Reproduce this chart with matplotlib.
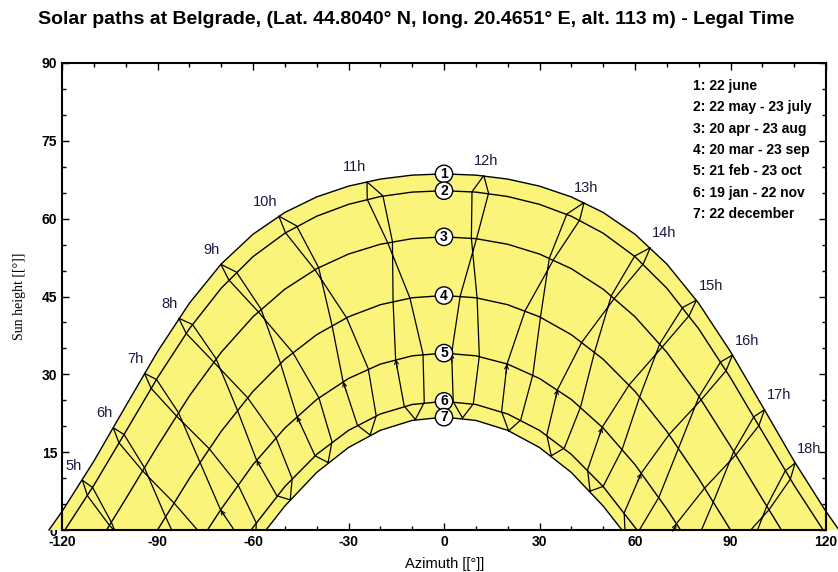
import numpy as np
import matplotlib.pyplot as plt

plt.rcParams['font.family'] = ['Liberation Sans', 'DejaVu Sans']
plt.rcParams['axes.unicode_minus'] = False

title = 'Solar paths at Belgrade, (Lat. 44.8040° N, long. 20.4651° E, alt. 113 m) - Legal Time'
path_labels = ['1: 22 june', '2: 22 may - 23 july', '3: 20 apr - 23 aug', '4: 20 mar - 23 sep',
               '5: 21 feb - 23 oct', '6: 19 jan - 22 nov', '7: 22 december']

# sun paths (azimuth / height in degrees)
az_1 = [-124.1, -120, -110, -100, -90, -80, -70, -60, -50, -40, -30, -20, -10, 0,
        10, 20, 30, 40, 50, 60, 70, 80, 90, 100, 110, 120, 124.1]
h_1 = [0, 3.56, 13.26, 23.87, 34.37, 43.70, 51.26, 57.00, 61.20, 64.19, 66.27, 67.63, 68.39, 68.63,
       68.39, 67.63, 66.27, 64.19, 61.20, 57.00, 51.26, 43.70, 34.37, 23.87, 13.26, 3.56, 0]
az_2 = [-119.1, -110, -100, -90, -80, -70, -60, -50, -40, -30, -20, -10, 0,
        10, 20, 30, 40, 50, 60, 70, 80, 90, 100, 110, 119.1]
h_2 = [0, 8.60, 18.94, 29.34, 38.78, 46.60, 52.68, 57.20, 60.47, 62.76, 64.27, 65.12, 65.39,
       65.12, 64.27, 62.76, 60.47, 57.20, 52.68, 46.60, 38.78, 29.34, 18.94, 8.60, 0]
az_3 = [-106.0, -100, -90, -80, -70, -60, -50, -40, -30, -20, -10, 0,
        10, 20, 30, 40, 50, 60, 70, 80, 90, 100, 106.0]
h_3 = [0, 5.98, 16.15, 25.82, 34.24, 41.10, 46.41, 50.36, 53.18, 55.07, 56.15, 56.49,
       56.15, 55.07, 53.18, 50.36, 46.41, 41.10, 34.24, 25.82, 16.15, 5.98, 0]
az_4 = [-90, -80, -70, -60, -50, -40, -30, -20, -10, 0, 10, 20, 30, 40, 50, 60, 70, 80, 90]
h_4 = [0, 9.92, 19.00, 26.72, 32.91, 37.64, 41.09, 43.42, 44.76, 45.19,
       44.76, 43.42, 41.09, 37.64, 32.91, 26.72, 19.00, 9.92, 0]
az_5 = [-74.3, -70, -60, -50, -40, -30, -20, -10, 0, 10, 20, 30, 40, 50, 60, 70, 74.3]
h_5 = [0, 4.03, 12.60, 19.65, 25.15, 29.20, 31.97, 33.57, 34.09,
       33.57, 31.97, 29.20, 25.15, 19.65, 12.60, 4.03, 0]
az_6 = [-60.6, -60, -50, -40, -30, -20, -10, 0, 10, 20, 30, 40, 50, 60, 60.6]
h_6 = [0, 0.50, 8.37, 14.58, 19.20, 22.36, 24.19, 24.79, 24.19, 22.36, 19.20, 14.58, 8.37, 0.50, 0]
az_7 = [-55.9, -50, -40, -30, -20, -10, 0, 10, 20, 30, 40, 50, 55.9]
h_7 = [0, 4.62, 11.09, 15.90, 19.21, 21.12, 21.75, 21.12, 19.21, 15.90, 11.09, 4.62, 0]

path_az = [az_1, az_2, az_3, az_4, az_5, az_6, az_7]
path_h = [h_1, h_2, h_3, h_4, h_5, h_6, h_7]

# hour lines, points for: 22dec 19jan 21feb 20mar 20apr 22may 22jun 23jul 23aug 23sep 23oct 22nov 22dec
hours = ['5h', '6h', '7h', '8h', '9h', '10h', '11h', '12h', '13h', '14h', '15h', '16h', '17h', '18h']
hour_az = [
    [None, None, None, -98.1, -104.5, -110.4, -113.6, -112.0, -105.1, -95.4, None, None, None],
    [None, None, -80.7, -87.5, -94.1, -100.5, -103.9, -102.1, -94.7, -84.8, -75.6, None, None],
    [-59.1, -63.3, -70.2, -76.7, -83.4, -90.3, -94.1, -92.0, -84.1, -73.8, -64.7, -59.0, -59.1],
    [-48.3, -52.5, -58.9, -64.9, -71.6, -79.0, -83.3, -81.0, -72.4, -61.7, -52.8, -47.7, -48.3],
    [-36.4, -40.5, -46.2, -51.4, -57.5, -65.2, -70.1, -67.6, -58.4, -47.5, -39.3, -35.2, -36.4],
    [-23.2, -27.2, -31.7, -35.2, -39.4, -46.3, -51.9, -49.8, -40.6, -30.6, -23.8, -21.3, -23.2],
    [-9.0, -12.5, -15.2, -16.0, -16.2, -19.2, -24.2, -24.1, -17.7, -10.7, -6.6, -6.2, -9.0],
    [5.8, 2.9, 2.4, 5.1, 10.2, 14.0, 12.5, 8.8, 8.6, 10.4, 11.1, 9.2, 5.8],
    [20.3, 18.1, 19.8, 25.5, 34.4, 42.6, 44.0, 38.6, 33.1, 30.3, 27.9, 24.1, 20.3],
    [33.7, 32.3, 35.7, 43.3, 53.6, 62.6, 64.8, 59.9, 52.6, 47.3, 42.9, 37.8, 33.7],
    [45.9, 45.1, 49.7, 58.2, 68.6, 77.0, 79.3, 75.0, 67.8, 61.5, 56.0, 50.0, 45.9],
    [56.9, 56.6, 62.0, 70.7, 80.8, 88.6, 90.6, 86.9, 80.1, 73.7, 67.5, 61.0, 56.9],
    [None, 67.1, 73.0, 81.9, 91.7, 98.9, 100.7, 97.3, 91.0, 84.6, 78.2, None, None],
    [None, None, None, 92.5, 102.1, 108.8, 110.3, 107.2, 101.4, 95.2, None, None, None],
]
hour_h = [
    [None, None, None, -8.1, 1.5, 8.2, 9.6, 6.6, 0.9, -5.4, None, None, None],
    [None, None, -6.4, 2.6, 12.0, 18.4, 19.7, 16.8, 11.4, 5.2, -1.3, None, None],
    [-2.8, -2.4, 3.9, 13.1, 22.6, 29.0, 30.2, 27.3, 22.0, 15.7, 8.7, 1.4, -2.8],
    [5.8, 6.6, 13.5, 23.1, 33.0, 39.6, 40.8, 37.9, 32.4, 25.5, 17.8, 9.9, 5.8],
    [13.0, 14.3, 21.9, 32.2, 42.6, 49.7, 51.2, 48.2, 42.1, 34.2, 25.5, 17.0, 13.0],
    [18.3, 20.2, 28.6, 39.5, 50.6, 58.6, 60.5, 57.3, 50.2, 40.9, 31.1, 22.0, 18.3],
    [21.3, 23.9, 32.9, 44.1, 55.6, 64.4, 67.1, 63.7, 55.4, 44.7, 33.9, 24.6, 21.3],
    [21.6, 24.7, 34.1, 45.1, 56.1, 64.9, 68.3, 65.2, 56.2, 44.7, 33.5, 24.3, 21.6],
    [19.1, 22.8, 32.0, 42.3, 52.1, 59.7, 63.1, 60.9, 52.4, 41.0, 29.9, 21.2, 19.1],
    [14.3, 18.3, 27.1, 36.2, 44.7, 51.3, 54.4, 52.8, 45.2, 34.3, 23.7, 15.8, 14.3],
    [7.5, 11.6, 19.8, 28.0, 35.3, 41.3, 44.3, 42.9, 35.9, 25.7, 15.6, 8.4, 7.5],
    [-0.8, 3.3, 11.0, 18.4, 25.1, 30.7, 33.7, 32.4, 25.7, 15.8, 6.3, -0.4, -0.8],
    [None, -6.0, 1.2, 8.1, 14.5, 20.1, 23.2, 21.8, 15.1, 5.4, -3.9, None, None],
    [None, None, None, -2.6, 3.9, 9.8, 12.9, 11.4, 4.6, -5.2, None, None, None],
]

W, H = 838, 572
PX = 72 / 100  # points per pixel
fig = plt.figure(figsize=(W / 100, H / 100), dpi=100)
ax = fig.add_axes([62 / W, 42 / H, 764 / W, 467 / H])
ax.set_xlim(-120, 120)
ax.set_ylim(0, 90)

# yellow area between june and december paths
fill_x = az_1 + az_7[::-1]
fill_y = h_1 + h_7[::-1]
ax.fill(fill_x, fill_y, color='#faf57a', lw=0, zorder=1.8, clip_on=False)

for a, h in zip(path_az, path_h):
    ax.plot(a, h, color='black', lw=1.0, zorder=3, clip_on=False)

for i, name in enumerate(hours):
    a = np.array(hour_az[i], dtype=float)
    h = np.array(hour_h[i], dtype=float)
    ax.plot(a, h, color='black', lw=0.9, zorder=3)
    # little arrow at the february point
    if h[2] > 0:
        ax.annotate('', xy=(a[2], h[2]), xytext=(a[1] + 0.8 * (a[2] - a[1]), h[1] + 0.8 * (h[2] - h[1])),
                    arrowprops=dict(arrowstyle='->', lw=0.8, color='black', mutation_scale=7,
                                    shrinkA=0, shrinkB=0), zorder=3)
    # hour label above the june point
    k = int(name[:-1])
    if k < 12:
        ha, dx = 'right', -1
    elif k < 14:
        ha, dx = 'center', 2
    else:
        ha, dx = 'left', 2
    ax.annotate(name, xy=(a[6], h[6]), xytext=(dx * PX, 14.5 * PX), textcoords='offset points',
                ha=ha, va='center', fontsize=10.5, color='#1a1a40', zorder=4)

# numbered circles on the meridian
for i, h in enumerate(path_h):
    ax.text(0, max(h), str(i + 1), ha='center', va='center', fontsize=10, weight='bold', zorder=5,
            bbox=dict(boxstyle='circle,pad=0.12', fc='white', ec='black', lw=1.0))

for i, lab in enumerate(path_labels):
    fig.text(693 / W, 1 - (86 + 21.3 * i) / H, lab, ha='left', va='center', fontsize=10, weight='bold')

ax.set_xticks(range(-120, 121, 30))
ax.set_xticks(range(-120, 121, 10), minor=True)
ax.set_yticks(range(0, 91, 15))
ax.set_yticks(range(0, 91, 5), minor=True)
ax.tick_params(which='both', direction='in', top=True, right=True, width=1, labelsize=10)
ax.tick_params(which='major', length=5)
ax.tick_params(which='minor', length=3)
for lab in ax.get_xticklabels() + ax.get_yticklabels():
    lab.set_fontweight('bold')
for s in ax.spines.values():
    s.set_linewidth(1.5)

fig.text(416 / W, 1 - 20 / H, title, ha='center', va='center', fontsize=14, weight='bold')
fig.text(20 / W, 1 - 296 / H, 'Sun height [[°]]', rotation=90, ha='center', va='center',
         fontsize=10, family='Liberation Serif')
fig.text(445 / W, 1 - 564 / H, 'Azimuth [[°]]', ha='center', va='center', fontsize=10.5)

fig.savefig('out.png', dpi=100)
